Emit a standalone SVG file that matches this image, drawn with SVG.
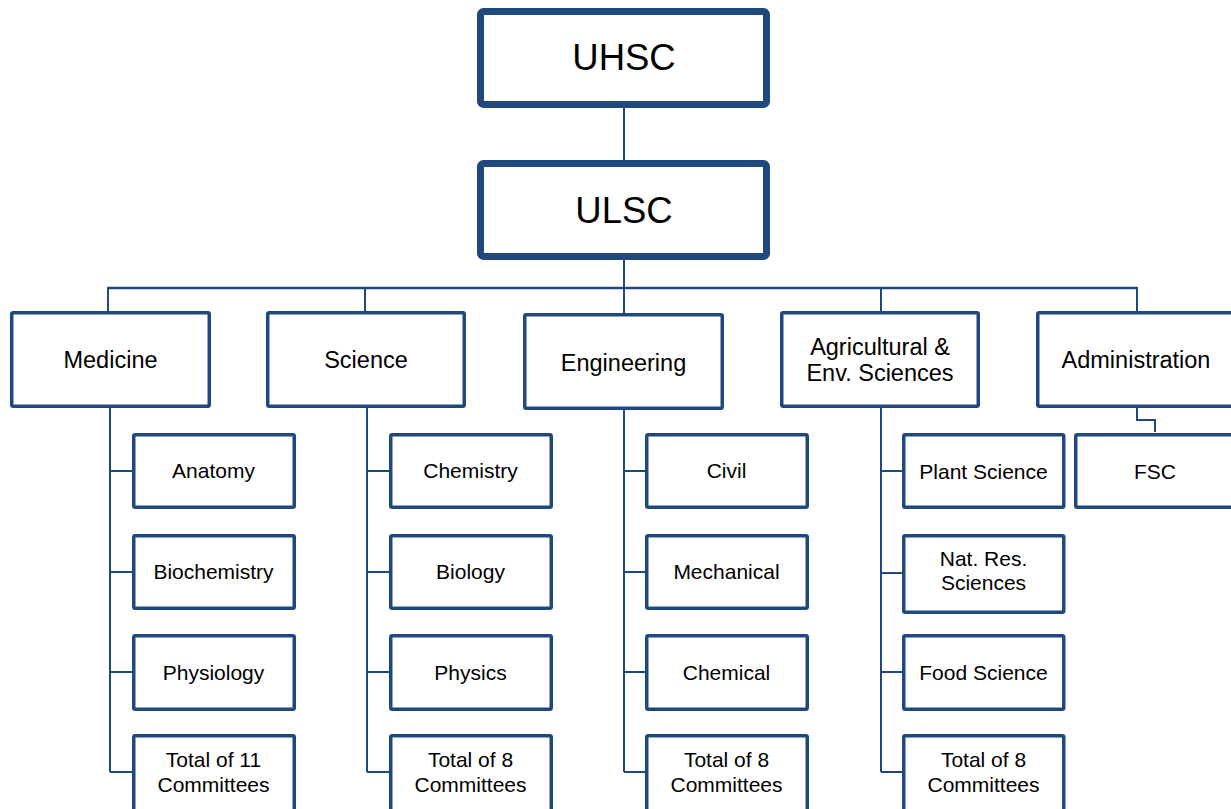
<svg xmlns="http://www.w3.org/2000/svg" width="1231" height="809" viewBox="0 0 1231 809">
<style>
.top{fill:#fff;stroke:#1F497D;stroke-width:7}
.box{fill:#fff;stroke:#1F497D;stroke-width:3.5}
.ln{fill:none;stroke:#1F497D;stroke-width:2}
.t{font-family:"Liberation Sans",Arial,sans-serif;fill:#000;text-anchor:middle}
.t1{font-size:36.5px}
.t2{font-size:23.5px}
.t3{font-size:21px}
</style>
<rect width="1231" height="809" fill="#fff"/>
<g id="connectors">
<line class="ln" x1="624" y1="108" x2="624" y2="160"/>
<line class="ln" x1="624" y1="260" x2="624" y2="313"/>
<line class="ln" x1="107" y1="288" x2="1138" y2="288" style="stroke-width:2.5"/>
<line class="ln" x1="108" y1="288" x2="108" y2="311"/>
<line class="ln" x1="365" y1="288" x2="365" y2="311"/>
<line class="ln" x1="881" y1="288" x2="881" y2="311"/>
<line class="ln" x1="1137" y1="288" x2="1137" y2="311"/>
<path class="ln" d="M110 408V772M110 471H132M110 572H132M110 672H132M110 772H132"/>
<path class="ln" d="M367 408V772M367 471H389M367 572H389M367 672H389M367 772H389"/>
<path class="ln" d="M624 410V772M624 471H645M624 572H645M624 672H645M624 772H645"/>
<path class="ln" d="M881 408V772M881 471H902M881 573H902M881 672H902M881 772H902"/>
<path class="ln" d="M1137 408V420H1155V432"/>
</g>
<g id="uhsc"><rect class="top" x="480.5" y="11.5" width="286" height="93" rx="3"/><text class="t t1" x="624" y="70">UHSC</text></g>
<g id="ulsc"><rect class="top" x="480.5" y="163.5" width="286" height="93" rx="3"/><text class="t t1" x="624" y="223">ULSC</text></g>
<g id="medicine"><rect class="box" x="11.75" y="312.75" width="197.5" height="93.5" rx="1.5"/><text class="t t2" x="110.5" y="368">Medicine</text></g>
<g id="science"><rect class="box" x="267.75" y="312.75" width="196.5" height="93.5" rx="1.5"/><text class="t t2" x="366" y="368">Science</text></g>
<g id="engineering"><rect class="box" x="524.75" y="314.75" width="197.5" height="93.5" rx="1.5"/><text class="t t2" x="623.5" y="371">Engineering</text></g>
<g id="agri"><rect class="box" x="781.75" y="312.75" width="196.5" height="93.5" rx="1.5"/><text class="t t2" x="880" y="355">Agricultural &amp;</text><text class="t t2" x="880" y="381">Env. Sciences</text></g>
<g id="administration"><rect class="box" x="1037.75" y="312.75" width="200" height="93.5" rx="1.5"/><text class="t t2" x="1136" y="368">Administration</text></g>
<g id="anatomy"><rect class="box" x="133.75" y="434.75" width="160.5" height="72.5" rx="1.5"/><text class="t t3" x="213.5" y="478">Anatomy</text></g>
<g id="biochemistry"><rect class="box" x="133.75" y="535.75" width="160.5" height="72.5" rx="1.5"/><text class="t t3" x="213.5" y="579">Biochemistry</text></g>
<g id="physiology"><rect class="box" x="133.75" y="635.75" width="160.5" height="73.5" rx="1.5"/><text class="t t3" x="213.5" y="680">Physiology</text></g>
<g id="med-total"><rect class="box" x="133.75" y="735.75" width="160.5" height="80" rx="1.5"/><text class="t t3" x="213.5" y="767">Total of 11</text><text class="t t3" x="213.5" y="792">Committees</text></g>
<g id="chemistry"><rect class="box" x="390.75" y="434.75" width="160.5" height="72.5" rx="1.5"/><text class="t t3" x="470.5" y="478">Chemistry</text></g>
<g id="biology"><rect class="box" x="390.75" y="535.75" width="160.5" height="72.5" rx="1.5"/><text class="t t3" x="470.5" y="579">Biology</text></g>
<g id="physics"><rect class="box" x="390.75" y="635.75" width="160.5" height="73.5" rx="1.5"/><text class="t t3" x="470.5" y="680">Physics</text></g>
<g id="sci-total"><rect class="box" x="390.75" y="735.75" width="160.5" height="80" rx="1.5"/><text class="t t3" x="470.5" y="767">Total of 8</text><text class="t t3" x="470.5" y="792">Committees</text></g>
<g id="civil"><rect class="box" x="646.75" y="434.75" width="160.5" height="72.5" rx="1.5"/><text class="t t3" x="726.5" y="478">Civil</text></g>
<g id="mechanical"><rect class="box" x="646.75" y="535.75" width="160.5" height="72.5" rx="1.5"/><text class="t t3" x="726.5" y="579">Mechanical</text></g>
<g id="chemical"><rect class="box" x="646.75" y="635.75" width="160.5" height="73.5" rx="1.5"/><text class="t t3" x="726.5" y="680">Chemical</text></g>
<g id="eng-total"><rect class="box" x="646.75" y="735.75" width="160.5" height="80" rx="1.5"/><text class="t t3" x="726.5" y="767">Total of 8</text><text class="t t3" x="726.5" y="792">Committees</text></g>
<g id="plant"><rect class="box" x="903.75" y="434.75" width="160" height="72.5" rx="1.5"/><text class="t t3" x="983.5" y="479">Plant Science</text></g>
<g id="natres"><rect class="box" x="903.75" y="535.75" width="160" height="76.5" rx="1.5"/><text class="t t3" x="983.5" y="566">Nat. Res.</text><text class="t t3" x="983.5" y="590">Sciences</text></g>
<g id="food"><rect class="box" x="903.75" y="635.75" width="160" height="73.5" rx="1.5"/><text class="t t3" x="983.5" y="680">Food Science</text></g>
<g id="agri-total"><rect class="box" x="903.75" y="735.75" width="160" height="80" rx="1.5"/><text class="t t3" x="983.5" y="767">Total of 8</text><text class="t t3" x="983.5" y="792">Committees</text></g>
<g id="fsc"><rect class="box" x="1075.75" y="434.75" width="165" height="72.5" rx="1.5"/><text class="t t3" x="1155" y="479">FSC</text></g>
</svg>
